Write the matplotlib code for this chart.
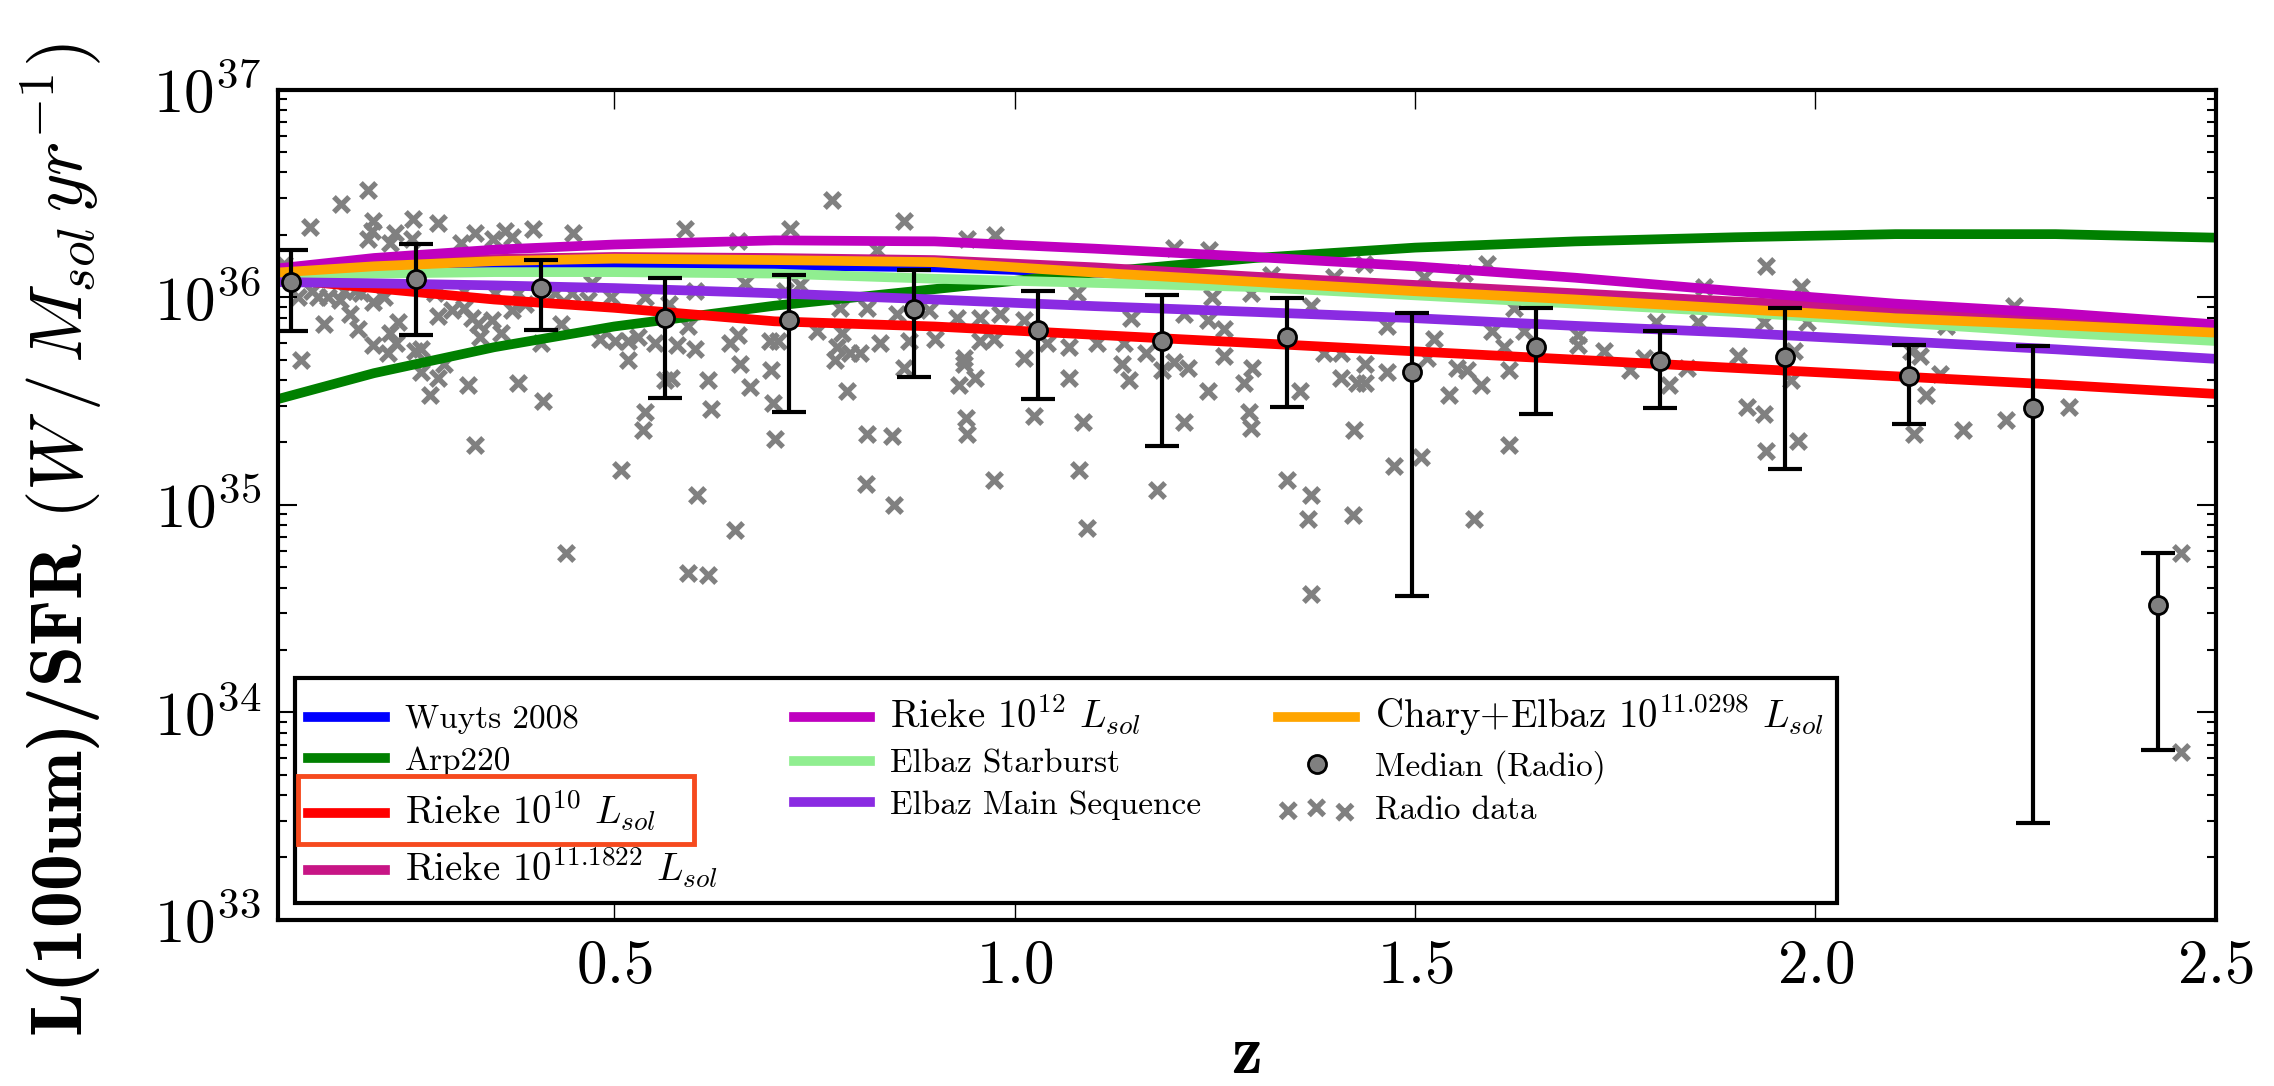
import matplotlib
matplotlib.use("Agg")
import matplotlib.pyplot as plt
from matplotlib.patches import Rectangle
import numpy as np

plt.rcParams['font.family'] = 'cmr10'
plt.rcParams['mathtext.fontset'] = 'cm'
plt.rcParams['axes.unicode_minus'] = False
plt.rcParams['axes.formatter.use_mathtext'] = True

# model curves, log10 L(100um)/SFR
curve_z = [0.08, 0.2, 0.35, 0.5, 0.7, 0.9, 1.1, 1.3, 1.5, 1.7, 1.9, 2.1, 2.3, 2.5]
wuyts = [36.12, 36.14, 36.155, 36.16, 36.155, 36.145, 36.12, 36.085, 36.05, 36.01, 35.975, 35.94, 35.90, 35.86]
arp220 = [35.51, 35.635, 35.76, 35.86, 35.96, 36.04, 36.12, 36.19, 36.24, 36.27, 36.29, 36.305, 36.305, 36.288]
rieke10 = [36.09, 36.045, 35.99, 35.95, 35.885, 35.86, 35.82, 35.78, 35.74, 35.70, 35.66, 35.62, 35.58, 35.535]
rieke1118 = [36.13, 36.16, 36.185, 36.195, 36.19, 36.18, 36.145, 36.10, 36.06, 36.02, 35.98, 35.945, 35.90, 35.855]
rieke12 = [36.14, 36.19, 36.23, 36.255, 36.275, 36.27, 36.235, 36.195, 36.15, 36.095, 36.03, 35.97, 35.925, 35.87]
elbaz_sb = [36.10, 36.115, 36.122, 36.122, 36.115, 36.09, 36.07, 36.05, 36.01, 35.97, 35.93, 35.88, 35.83, 35.79]
elbaz_ms = [36.074, 36.068, 36.058, 36.045, 36.02, 35.99, 35.958, 35.93, 35.90, 35.863, 35.83, 35.79, 35.75, 35.704]
chary = [36.12, 36.15, 36.175, 36.187, 36.18, 36.17, 36.12, 36.075, 36.03, 35.99, 35.945, 35.90, 35.867, 35.83]

# median of radio sample per bin (log10) with error range
med_z = [0.096, 0.252, 0.408, 0.563, 0.718, 0.874, 1.029, 1.184, 1.340, 1.496,
         1.651, 1.806, 1.962, 2.117, 2.272, 2.428]
med_log = [36.074, 36.09, 36.046, 35.90, 35.892, 35.945, 35.844, 35.789, 35.808, 35.642,
           35.763, 35.692, 35.715, 35.62, 35.467, 34.52]
med_hi = [36.227, 36.256, 36.18, 36.095, 36.11, 36.13, 36.03, 36.014, 35.997, 35.924,
          35.948, 35.84, 35.948, 35.773, 35.768, 34.77]
med_lo = [35.84, 35.82, 35.844, 35.513, 35.446, 35.615, 35.51, 35.282, 35.47, 34.563,
          35.438, 35.467, 35.172, 35.39, 33.465, 33.82]

# individual radio sources (z, log10)
radio_z = [
    0.192, 0.159, 0.120, 0.199, 0.249, 0.280, 0.192, 0.198, 0.226, 0.220, 0.247, 0.326,
    0.363, 0.399, 0.449, 0.589, 0.719, 0.309, 0.349, 0.372, 0.655, 0.130, 0.138, 0.157,
    0.170, 0.180, 0.199, 0.220, 0.230, 0.217, 0.251, 0.259, 0.228, 0.259, 0.280, 0.270,
    0.288, 0.280, 0.297, 0.313, 0.322, 0.330, 0.332, 0.347, 0.359, 0.372, 0.388, 0.409,
    0.434, 0.447, 0.467, 0.482, 0.501, 0.517, 0.517, 0.530, 0.551, 0.578, 0.601, 0.592,
    0.569, 0.617, 0.621, 0.657, 0.669, 0.644, 0.655, 0.696, 0.698, 0.701, 0.694, 0.705,
    0.317, 0.380, 0.411, 0.326, 0.538, 0.536, 0.509, 0.603, 0.651, 0.440, 0.592, 0.617,
    0.571, 0.563, 0.109, 0.199, 0.184, 0.176, 0.163, 0.142, 0.213, 0.088, 0.105, 0.122,
    0.472, 0.496, 0.538, 0.601, 0.663, 0.713, 0.313, 0.351, 0.380, 0.426, 0.276,
    0.772, 0.862, 0.828, 0.941, 0.975, 1.199, 1.243, 1.320, 1.295, 1.247, 1.078, 0.732,
    0.782, 0.816, 0.853, 0.893, 0.928, 0.957, 0.982, 1.012, 0.753, 0.785, 0.832, 0.778,
    0.776, 0.795, 0.807, 0.862, 0.868, 0.901, 0.937, 0.937, 0.951, 0.930, 0.957, 0.974,
    1.012, 1.041, 1.068, 1.068, 1.103, 1.136, 1.134, 1.143, 1.164, 1.184, 1.199, 1.216,
    1.241, 1.261, 1.261, 1.241, 1.211, 1.145, 1.297, 1.286, 1.293, 1.295, 1.357, 0.791,
    0.816, 0.847, 0.939, 0.941, 1.024, 1.086, 1.211, 0.814, 0.849, 0.974, 1.080, 1.091,
    1.178, 1.340, 1.370, 1.366, 1.370,
    1.590, 1.511, 1.561, 1.399, 1.436, 1.938, 1.982, 1.861, 1.370, 1.624, 1.465, 1.596,
    1.524, 1.386, 1.407, 1.438, 1.407, 1.428, 1.438, 1.465, 1.515, 1.553, 1.565, 1.582,
    1.542, 1.617, 1.611, 1.636, 1.703, 1.703, 1.736, 1.769, 1.786, 1.817, 1.840, 1.801,
    1.853, 1.903, 1.936, 1.973, 1.990, 1.969, 1.915, 1.936, 1.938, 1.978, 1.424, 1.474,
    1.507, 1.617, 1.422, 1.574,
    2.163, 2.248, 2.119, 2.131, 2.156, 2.138, 2.123, 2.184, 2.238, 2.317, 2.456, 2.456,
]
radio_log = [
    36.52, 36.45, 36.34, 36.37, 36.38, 36.36, 36.28, 36.32, 36.31, 36.26, 36.28, 36.31,
    36.32, 36.33, 36.31, 36.33, 36.33, 36.26, 36.28, 36.29, 36.27, 36.00, 35.87, 35.99,
    35.92, 35.85, 35.77, 35.83, 35.88, 35.73, 35.74, 35.75, 35.78, 35.64, 35.61, 35.53,
    35.68, 35.91, 35.94, 35.95, 35.90, 35.87, 35.81, 35.89, 35.83, 35.94, 35.97, 35.78,
    35.87, 36.02, 35.99, 35.80, 35.79, 35.79, 35.70, 35.81, 35.78, 35.77, 35.75, 35.86,
    35.97, 35.60, 35.46, 35.68, 35.57, 35.78, 35.82, 35.65, 35.49, 35.32, 35.79, 35.79,
    35.58, 35.59, 35.50, 35.29, 35.45, 35.36, 35.17, 35.05, 34.88, 34.77, 34.67, 34.66,
    35.61, 35.60, 35.70, 35.98, 36.02, 36.03, 36.03, 36.00, 36.00, 36.16, 36.00, 36.03,
    36.07, 36.00, 36.00, 36.03, 36.07, 36.03, 36.03, 36.02, 36.02, 36.02, 36.02,
    36.47, 36.37, 36.23, 36.28, 36.30, 36.24, 36.23, 36.11, 36.02, 36.00, 36.02, 36.06,
    35.95, 35.95, 35.92, 35.94, 35.90, 35.90, 35.92, 35.89, 35.84, 35.83, 35.78, 35.76,
    35.70, 35.73, 35.73, 35.66, 35.79, 35.80, 35.71, 35.68, 35.61, 35.58, 35.79, 35.80,
    35.71, 35.78, 35.76, 35.61, 35.78, 35.78, 35.68, 35.60, 35.73, 35.65, 35.69, 35.66,
    35.55, 35.72, 35.85, 35.89, 35.92, 35.90, 35.66, 35.59, 35.45, 35.37, 35.55, 35.55,
    35.34, 35.33, 35.42, 35.34, 35.43, 35.40, 35.40, 35.10, 35.00, 35.12, 35.17, 34.89,
    35.07, 35.12, 35.05, 34.93, 34.57,
    36.16, 36.10, 36.12, 36.10, 36.16, 36.15, 36.05, 36.05, 35.96, 35.95, 35.86, 35.84,
    35.80, 35.73, 35.73, 35.68, 35.61, 35.59, 35.59, 35.64, 35.71, 35.66, 35.65, 35.58,
    35.53, 35.65, 35.76, 35.84, 35.82, 35.77, 35.74, 35.65, 35.71, 35.58, 35.66, 35.88,
    35.88, 35.72, 35.88, 35.74, 35.88, 35.60, 35.47, 35.44, 35.26, 35.31, 35.36, 35.19,
    35.23, 35.29, 34.95, 34.93,
    35.86, 35.96, 35.74, 35.72, 35.63, 35.53, 35.34, 35.36, 35.41, 35.47, 34.77, 33.81,
]

fig = plt.figure(figsize=(22.74, 10.86), dpi=100)
ax = fig.add_axes([0.1222, 0.1529, 0.8522, 0.7643])

sc = ax.scatter(radio_z, 10 ** np.array(radio_log), marker='x', s=120, linewidths=3.8,
                color='#808080', zorder=1, label='Radio data')

lw = 7
l1, = ax.plot(curve_z, 10 ** np.array(wuyts), color='#0000FF', lw=lw, label='Wuyts 2008')
l2, = ax.plot(curve_z, 10 ** np.array(arp220), color='#008000', lw=lw, label='Arp220')
l3, = ax.plot(curve_z, 10 ** np.array(rieke10), color='#FF0000', lw=lw,
              label=r'Rieke $10^{10}\ L_{sol}$')
l4, = ax.plot(curve_z, 10 ** np.array(rieke1118), color='#C71585', lw=lw,
              label=r'Rieke $10^{11.1822}\ L_{sol}$')
l5, = ax.plot(curve_z, 10 ** np.array(rieke12), color='#BF00BF', lw=lw,
              label=r'Rieke $10^{12}\ L_{sol}$')
l6, = ax.plot(curve_z, 10 ** np.array(elbaz_sb), color='#90EE90', lw=lw, label='Elbaz Starburst')
l7, = ax.plot(curve_z, 10 ** np.array(elbaz_ms), color='#8A2BE2', lw=lw, label='Elbaz Main Sequence')
l8, = ax.plot(curve_z, 10 ** np.array(chary), color='#FFA500', lw=lw,
              label=r'Chary+Elbaz $10^{11.0298}\ L_{sol}$')

med = 10 ** np.array(med_log)
yerr = [med - 10 ** np.array(med_lo), 10 ** np.array(med_hi) - med]
ax.errorbar(med_z, med, yerr=yerr, fmt='none', ecolor='k', elinewidth=3, capsize=12,
            capthick=3, zorder=3)
m, = ax.plot(med_z, med, 'o', mfc='#808080', mec='k', mew=2, ms=13, zorder=4,
             label='Median (Radio)')

ax.set_yscale('log')
ax.set_xlim(0.08, 2.5)
ax.set_ylim(1e33, 1e37)
ax.set_xticks([0.5, 1.0, 1.5, 2.0, 2.5])

for s in ax.spines.values():
    s.set_linewidth(3)
ax.tick_params(axis='both', which='both', direction='in', top=True, right=True)
ax.tick_params(axis='x', which='major', length=14, width=1, labelsize=44, pad=14)
ax.tick_params(axis='y', which='major', length=14, width=1.5, labelsize=44, pad=12)
ax.tick_params(axis='y', which='minor', length=6.5, width=1.5)

ax.set_xlabel('z', fontname='cmb10', fontsize=50, va='baseline')
ax.xaxis.set_label_coords(0.5, -0.184)
ax.set_ylabel(r'L(100um)/SFR $(W\,/\,M_{sol}\,yr^{-1})$', fontname='cmb10', fontsize=53,
              va='center')
ax.yaxis.set_label_coords(-0.112, 0.458)

handles = [l1, l2, l3, l4, l5, l6, l7, l8, m, sc]
leg = ax.legend(handles, [h.get_label() for h in handles], loc='lower left', ncol=3,
                fontsize=24, fancybox=False, edgecolor='k', framealpha=1,
                borderaxespad=0.5, handlelength=2.3, handletextpad=0.6,
                columnspacing=2.3, labelspacing=0.36, scatterpoints=3, numpoints=1)
leg.get_frame().set_linewidth(3)
# the entries with math text come out wider in the original
for t in leg.get_texts():
    if '$' in t.get_text():
        t.set_fontsize(28)

# highlight box around the Rieke 10^10 entry
fig.add_artist(Rectangle((0.1310, 0.2228), 0.1741, 0.0626, transform=fig.transFigure,
                         fill=False, edgecolor='#F64A1E', lw=3.5))

fig.savefig('out.png', dpi=100)
